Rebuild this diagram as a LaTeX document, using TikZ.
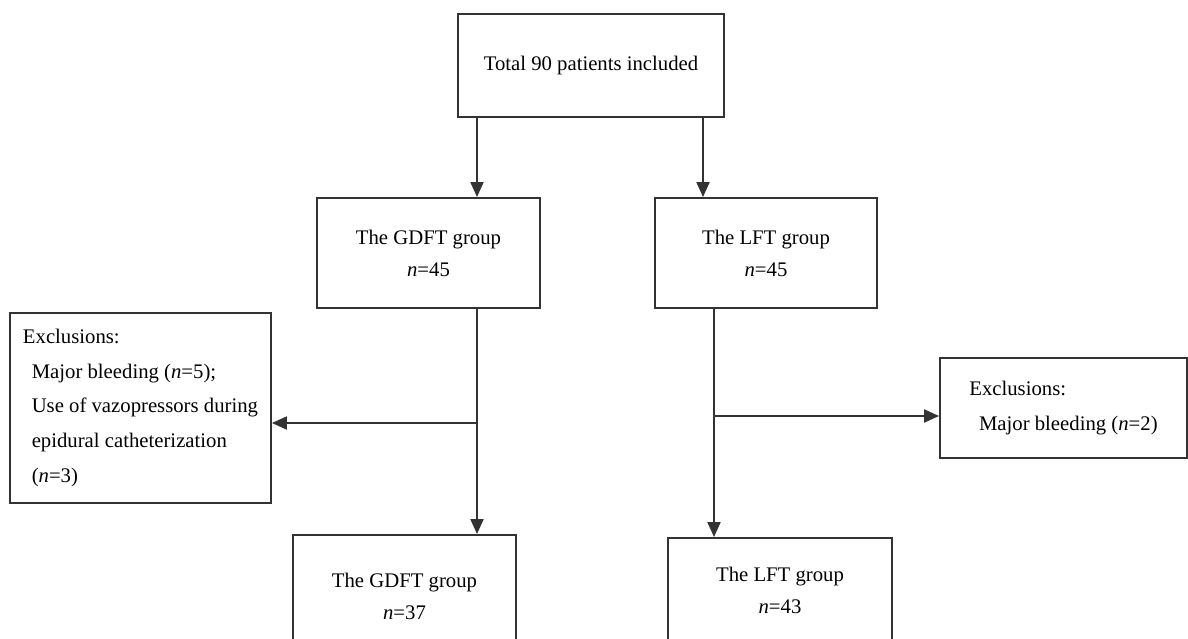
\documentclass[tikz,border=0pt]{standalone}
\usepackage{fontspec}
\setmainfont{Liberation Serif}
\usetikzlibrary{positioning,arrows.meta}

\tikzset{
  box/.style={draw=black!80, line width=1.1pt, inner sep=0pt, align=center,
    font=\fontsize{11.8}{18.2}\selectfont},
  exbox/.style={box, align=left, font=\fontsize{11.8}{19.9}\selectfont},
  arr/.style={draw=black!80, line width=1.1pt, -{Triangle[length=0.3cm,width=0.26cm]}},
  ln/.style={draw=black!80, line width=1.1pt}
}

\begin{document}
\begin{tikzpicture}[x=0.02cm, y=-0.02cm]
  \useasboundingbox (0,0) rectangle (1188,639);
  \clip (0,0) rectangle (1188,639);
  % all patients
  \node[box, minimum width=5.32cm, minimum height=2.06cm] (total) at (591,65.5) {Total 90 patients included};

  % randomised groups
  \node[box, minimum width=4.46cm, minimum height=2.2cm] (gdft) at (428.5,253) {The GDFT group\\\textit{n}=45};
  \node[box, minimum width=4.44cm, minimum height=2.2cm] (lft) at (766,253) {The LFT group\\\textit{n}=45};

  % exclusions
  \node[exbox, minimum width=5.22cm, minimum height=3.8cm] (exl) at (140.5,408) {Exclusions:\\\hspace*{5pt}Major bleeding (\textit{n}=5);\\\hspace*{5pt}Use of vazopressors during\\\hspace*{5pt}epidural catheterization\\\hspace*{5pt}(\textit{n}=3)};
  \node[exbox, minimum width=4.94cm, minimum height=2.0cm] (exr) at (1063.5,408) {Exclusions:\\\hspace*{5.5pt}Major bleeding (\textit{n}=2)};

  % analysed groups
  \node[box, minimum width=4.46cm, minimum height=2.44cm] (gdft2) at (404.5,596) {The GDFT group\\\textit{n}=37};
  \node[box, minimum width=4.48cm, minimum height=2.08cm] (lft2) at (780,590) {The LFT group\\\textit{n}=43};

  % branch points
  \coordinate (tl) at (477,0);
  \coordinate (tr) at (703,0);
  \coordinate (cl) at (477,423);
  \coordinate (cr) at (714,416);

  \draw[arr] (total.south -| tl) -- (gdft.north -| tl);
  \draw[arr] (total.south -| tr) -- (lft.north -| tr);
  \draw[ln] (gdft.south -| cl) -- (cl);
  \draw[arr] (cl) -- (exl.east |- cl);
  \draw[arr] (cl) -- (gdft2.north -| cl);
  \draw[ln] (lft.south -| cr) -- (cr);
  \draw[arr] (cr) -- (exr.west |- cr);
  \draw[arr] (cr) -- (lft2.north -| cr);
\end{tikzpicture}
\end{document}
